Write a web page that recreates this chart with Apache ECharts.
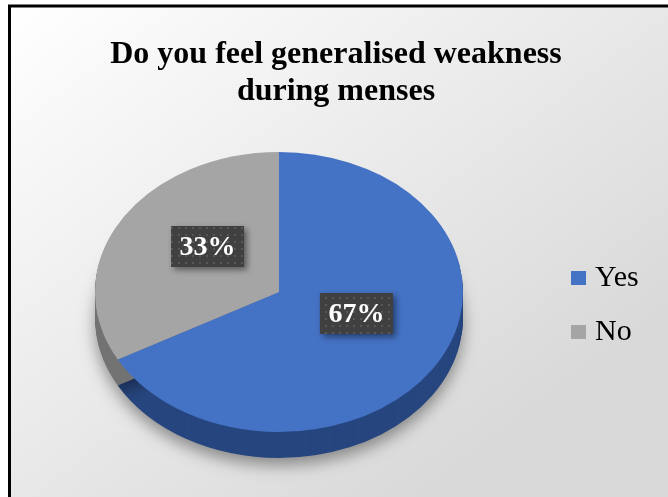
<!DOCTYPE html>
<html><head><meta charset="utf-8">
<script src="https://cdn.jsdelivr.net/npm/echarts@6/dist/echarts.min.js"></script>
<style>html,body{margin:0;padding:0;background:#fff}#c{width:668px;height:497px}</style>
</head><body><div id="c"></div>
<script>
const titleText = 'Do you feel generalised weakness\nduring menses';
const categories = ['Yes', 'No'];
const values = [67, 33];
const topColors = ['#4472C4', '#A5A5A5'];
const sideColors = ['#27467f', '#737373'];

const CX = 279, CY = 292, RX = 184, RY = 140, DEPTH = 26;
const total = values.reduce((a, b) => a + b, 0);

const pat = document.createElement('canvas');
pat.width = 7; pat.height = 7;
const pc = pat.getContext('2d');
pc.fillStyle = '#404040'; pc.fillRect(0, 0, 7, 7);
pc.fillStyle = '#575757'; pc.fillRect(3, 3, 2, 2);

function makeRender(i) {
  return function (params, api) {
    let before = 0;
    for (let k = 0; k < i; k++) before += values[k];
    const v = api.value(0);
    const start = -Math.PI / 2 + 2 * Math.PI * before / total;
    const end = start + 2 * Math.PI * v / total;
    const children = [];
    for (let d = DEPTH; d >= 1; d--) {
      const st = { fill: sideColors[i] };
      if (d === DEPTH) {
        st.shadowBlur = 16; st.shadowColor = 'rgba(0,0,0,0.4)'; st.shadowOffsetY = 7;
      }
      children.push({
        type: 'sector', silent: true, z2: 1,
        shape: { cx: CX, cy: CY, r: RX, r0: 0, startAngle: start, endAngle: end, clockwise: true },
        y: d, scaleY: RY / RX, originX: CX, originY: CY, style: st
      });
    }
    children.push({
      type: 'sector', silent: true, z2: 5,
      shape: { cx: CX, cy: CY, r: RX, r0: 0, startAngle: start, endAngle: end, clockwise: true },
      scaleY: RY / RX, originX: CX, originY: CY, style: { fill: topColors[i] }
    });
    const mid = (start + end) / 2;
    const lx = CX + 3 + 0.47 * RX * Math.cos(mid);
    const ly = CY - 12 + 0.47 * RY * Math.sin(mid);
    const bw = 73, bh = 41;
    children.push({
      type: 'rect', silent: true, z2: 10,
      shape: { x: lx - bw / 2, y: ly - bh / 2, width: bw, height: bh },
      style: { fill: { image: pat, repeat: 'repeat' }, shadowBlur: 6, shadowColor: 'rgba(0,0,0,0.45)', shadowOffsetX: 3, shadowOffsetY: 3 }
    });
    children.push({
      type: 'text', silent: true, z2: 11,
      style: { text: Math.round(v / total * 100) + '%', x: lx, y: ly + 1, align: 'center', verticalAlign: 'middle',
        font: 'bold 28px "Liberation Serif", "Times New Roman", serif', fill: '#ffffff' }
    });
    return { type: 'group', children: children };
  };
}

const chart = echarts.init(document.getElementById('c'), null, { renderer: 'canvas' });
chart.setOption({
  animation: false,
  backgroundColor: '#ffffff',
  graphic: [{
    type: 'rect', z: -10, silent: true,
    shape: { x: 9.5, y: 6, width: 700, height: 600 },
    style: {
      fill: new echarts.graphic.LinearGradient(0, 0, 0.55, 0.85, [
        { offset: 0, color: '#ffffff' }, { offset: 1, color: '#d9d9d9' }
      ]),
      stroke: '#000', lineWidth: 3
    }
  }],
  title: {
    text: titleText, left: 336, top: 36, textAlign: 'center', padding: 0,
    textStyle: { fontFamily: '"Liberation Serif", "Times New Roman", serif', fontWeight: 'bold', fontSize: 32, lineHeight: 37, color: '#000' }
  },
  legend: {
    data: categories, orient: 'vertical', left: 571, top: 263, icon: 'rect', padding: 0,
    itemWidth: 15, itemHeight: 14, itemGap: 24,
    textStyle: { fontFamily: '"Liberation Serif", "Times New Roman", serif', fontSize: 30, lineHeight: 30, color: '#000', padding: [0, 0, 0, 4] }
  },
  series: categories.map((name, i) => ({
    type: 'custom', name: name, coordinateSystem: 'none', z: 2,
    itemStyle: { color: topColors[i] },
    data: [values[i]],
    renderItem: makeRender(i)
  }))
});
</script></body></html>
